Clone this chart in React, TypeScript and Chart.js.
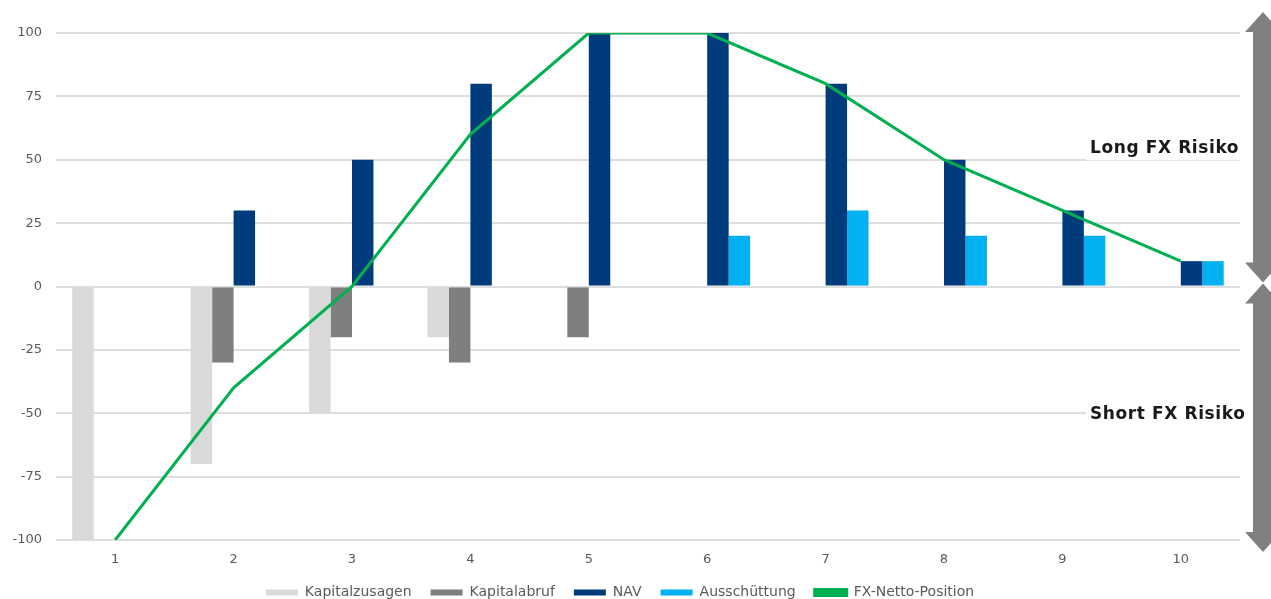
import React, { useEffect, useRef } from "react";
import { Chart, registerables } from "chart.js";

Chart.register(...registerables);

const categories = ["1", "2", "3", "4", "5", "6", "7", "8", "9", "10"];
const kapitalzusagen = [-100, -70, -50, -20, 0, 0, 0, 0, 0, 0];
const kapitalabruf = [0, -30, -20, -30, -20, 0, 0, 0, 0, 0];
const nav = [0, 30, 50, 80, 100, 100, 80, 50, 30, 10];
const ausschuettung = [0, 0, 0, 0, 0, 20, 30, 20, 20, 10];
const fxNetto = [-100, -40, 0, 60, 100, 100, 80, 50, 30, 10];
const seriesNames = ["Kapitalzusagen", "Kapitalabruf", "NAV", "Ausschüttung", "FX-Netto-Position"];
const annotationLong = "Long FX Risiko";
const annotationShort = "Short FX Risiko";

const FONT = "'DejaVu Sans', 'Liberation Sans', sans-serif";
const TEXT = "#595959";

const arrowsPlugin = {
  id: "fxArrows",
  afterDraw(chart: any) {
    const ctx = chart.ctx as CanvasRenderingContext2D;
    const y = chart.scales.y;
    const cx = 1263;
    const hw = 18;
    const sw = 10;
    const drawArrow = (top: number, bottom: number, head: number) => {
      ctx.beginPath();
      ctx.moveTo(cx, top);
      ctx.lineTo(cx + hw, top + head);
      ctx.lineTo(cx + sw, top + head);
      ctx.lineTo(cx + sw, bottom - head);
      ctx.lineTo(cx + hw, bottom - head);
      ctx.lineTo(cx, bottom);
      ctx.lineTo(cx - hw, bottom - head);
      ctx.lineTo(cx - sw, bottom - head);
      ctx.lineTo(cx - sw, top + head);
      ctx.lineTo(cx - hw, top + head);
      ctx.closePath();
      ctx.fill();
    };
    ctx.save();
    ctx.fillStyle = "#808080";
    const y100 = y.getPixelForValue(100);
    const y0 = y.getPixelForValue(0);
    const yM100 = y.getPixelForValue(-100);
    drawArrow(y100 - 21, y0 - 4, 20);
    drawArrow(y0 - 3, yM100 + 12, 20);

    const drawLabel = (text: string, cy: number) => {
      ctx.fillStyle = "#ffffff";
      ctx.fillRect(1086, cy - 12, 158, 24);
      ctx.fillStyle = "#1a1a1a";
      ctx.font = "bold 17px 'DejaVu Sans', sans-serif";
      (ctx as any).letterSpacing = "0.6px";
      ctx.textAlign = "left";
      ctx.textBaseline = "middle";
      ctx.fillText(text, 1090, cy);
      (ctx as any).letterSpacing = "0px";
    };
    drawLabel(annotationLong, y.getPixelForValue(54.5));
    drawLabel(annotationShort, y.getPixelForValue(-50.5));
    ctx.restore();
  },
};

export default function App() {
  const ref = useRef<HTMLCanvasElement | null>(null);
  useEffect(() => {
    document.body.style.margin = "0";
    const canvas = ref.current;
    if (!canvas) return;
    const chart = new Chart(canvas, {
      type: "bar",
      data: {
        labels: categories,
        datasets: [
          { label: seriesNames[0], data: kapitalzusagen, backgroundColor: "#d9d9d9", borderWidth: 0 },
          { label: seriesNames[1], data: kapitalabruf, backgroundColor: "#7f7f7f", borderWidth: 0 },
          { label: seriesNames[2], data: nav, backgroundColor: "#003b7b", borderWidth: 0 },
          { label: seriesNames[3], data: ausschuettung, backgroundColor: "#00b0f0", borderWidth: 0 },
          {
            type: "line",
            label: seriesNames[4],
            data: fxNetto,
            borderColor: "#00b050",
            backgroundColor: "#00b050",
            borderWidth: 3,
            pointRadius: 0,
            tension: 0,
            order: -1,
          } as any,
        ],
      },
      options: {
        animation: false,
        responsive: false,
        maintainAspectRatio: false,
        layout: { padding: { left: 0, right: 31, top: 33, bottom: 0 } },
        datasets: {
          bar: { categoryPercentage: 0.725, barPercentage: 1.0 },
        },
        scales: {
          x: {
            grid: { display: false, drawTicks: true, tickLength: 13.5 },
            border: { display: false },
            ticks: { color: TEXT, font: { family: FONT, size: 13, lineHeight: 1 }, padding: 0 },
          },
          y: {
            min: -100,
            max: 100,
            border: { display: false },
            grid: { color: "#dedede", lineWidth: 2, drawTicks: false },
            ticks: { stepSize: 25, color: TEXT, font: { family: FONT, size: 13 }, padding: 14 },
            afterFit: (axis: any) => {
              axis.width = 56;
            },
          },
        },
        plugins: {
          legend: {
            position: "bottom",
            maxHeight: 32.5,
            labels: {
              color: TEXT,
              font: { family: FONT, size: 14 },
              boxWidth: 32,
              boxHeight: 6,
              padding: 19,
              sort: (a: any, b: any) => a.datasetIndex - b.datasetIndex,
            },
          },
          tooltip: { enabled: false },
        },
      },
      plugins: [arrowsPlugin],
    });
    return () => chart.destroy();
  }, []);
  return (
    <div style={{ position: "absolute", left: 0, top: 0, width: 1271, height: 599 }}>
      <canvas ref={ref} width={1271} height={599} />
    </div>
  );
}
